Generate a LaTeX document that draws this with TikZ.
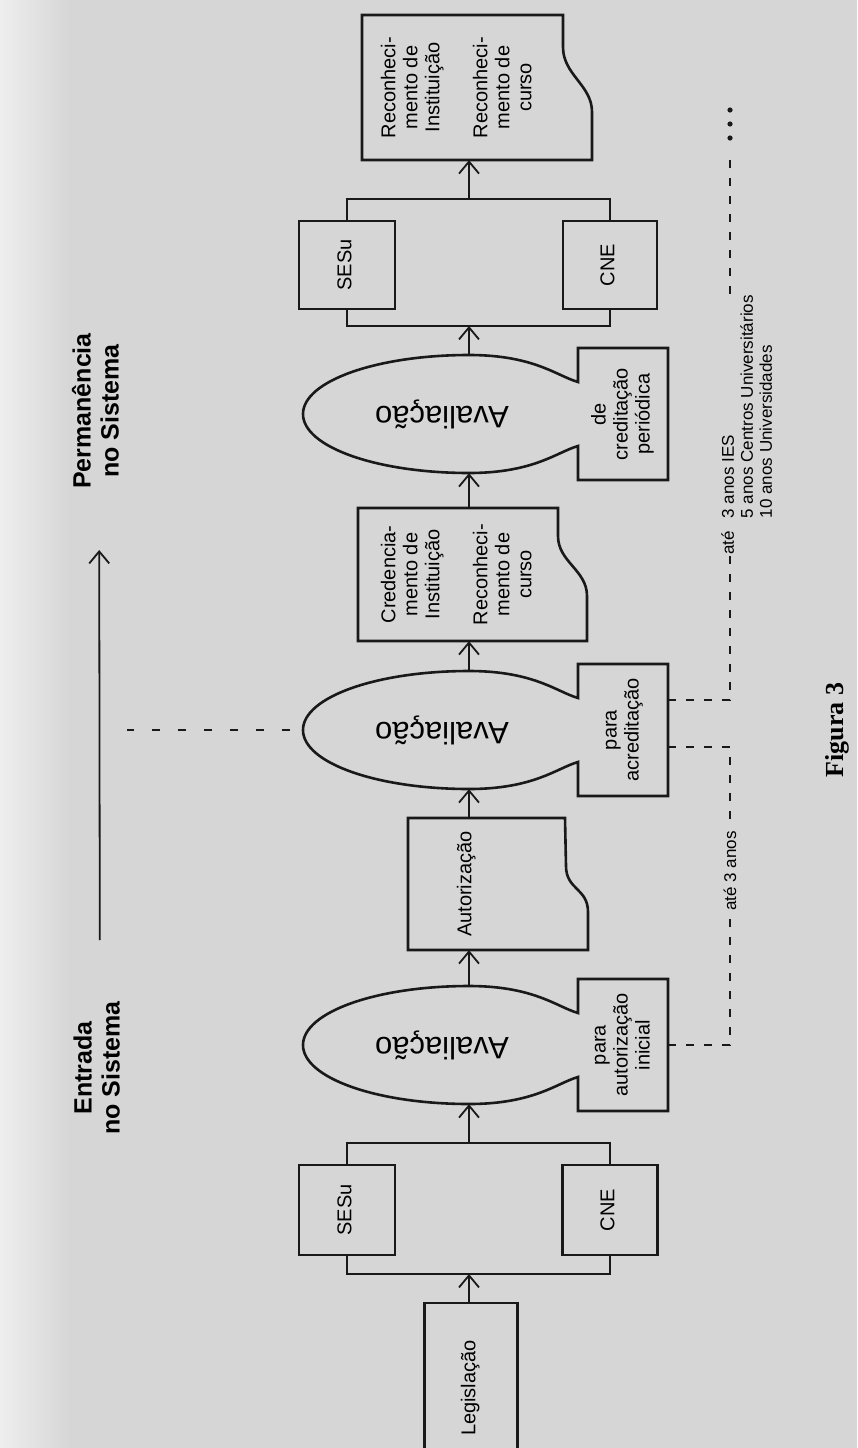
\documentclass[tikz,border=0pt]{standalone}
\usepackage{fontspec}
\setmainfont{Liberation Sans}
\newfontfamily\figfont{Liberation Serif}
\usepackage{graphicx}
\usetikzlibrary{arrows.meta}
\definecolor{papel}{RGB}{214,214,214}
\definecolor{borde}{RGB}{238,238,238}
\definecolor{tinta}{RGB}{25,25,25}
\newcommand{\vtext}[1]{\rotatebox{90}{\begin{tabular}{@{}c@{}}#1\end{tabular}}}

\begin{document}
\begin{tikzpicture}[x=1pt, y=-1pt,
    >={Straight Barb[length=12pt, width=20pt]},
    caja/.style={draw=tinta, line width=2.6pt, inner sep=0pt, font=\fontsize{20}{22}\selectfont},
    texto/.style={inner sep=0pt, font=\fontsize{20}{22}\selectfont},
    linea/.style={draw=tinta, line width=2.6pt},
    flecha/.style={draw=tinta, line width=1.8pt, ->},
    union/.style={draw=tinta, line width=1.8pt},
    raya/.style={draw=tinta, line width=2.4pt, dash pattern=on 8pt off 10pt},
    rayaizq/.style={draw=tinta, line width=2.4pt, dash pattern=on 8pt off 18pt},
    rotulo/.style={fill=papel, inner sep=2pt, font=\fontsize{17}{19}\selectfont},
    titulo/.style={inner sep=0pt, font=\fontsize{25}{28}\selectfont\bfseries}]

    % Fondo de la pagina
    \useasboundingbox (0,0) rectangle (857,1448);
    \fill[papel] (0,0) rectangle (857,1448);
    \shade[left color=borde, right color=papel] (0,0) rectangle (70,1448);
    \clip (0,0) rectangle (857,1448);

    % Legislacao, SESu y CNE (abajo)
    \node[caja, minimum width=93, minimum height=170] (leg) at (471,1388) {\vtext{Legislação}};
    \node[caja, minimum width=96, minimum height=90] (sesu2) at (347,1210) {\vtext{SESu}};
    \node[caja, minimum width=95, minimum height=90] (cne2) at (610,1210) {\vtext{CNE}};
    \coordinate (j2top) at (469,1143);
    \coordinate (j2bot) at (469,1274);

    % SESu y CNE (arriba)
    \node[caja, minimum width=96, minimum height=88] (sesu1) at (347,265) {\vtext{SESu}};
    \node[caja, minimum width=94, minimum height=88] (cne1) at (610,265) {\vtext{CNE}};
    \coordinate (j1top) at (469,199);
    \coordinate (j1bot) at (469,326);

    % Avaliacoes
    \foreach \n/\cy in {1/1045,2/730,3/414}
        \node[texto, minimum width=332, minimum height=118] (av\n) at (469,\cy)
            {\rotatebox{180}{\fontsize{31}{33}\selectfont\hspace{54pt}Avaliação}};
    \node[texto, minimum width=90, minimum height=132, anchor=west] (pa1) at ([xshift=109pt]av1.center) {\vtext{para\\autorização\\inicial}};
    \node[texto, minimum width=90, minimum height=132, anchor=west] (pa2) at ([xshift=109pt]av2.center) {\vtext{para\\acreditação}};
    \node[texto, minimum width=90, minimum height=132, anchor=west] (pa3) at ([xshift=109pt]av3.center) {\vtext{de\\creditação\\periódica}};

    % Contorno: elipse unida a su caja
    \foreach \n in {1,2,3}{
        \begin{scope}[shift={(av\n.center)}]
            \draw[linea] (109,-32) -- (109,-66) -- (199,-66) -- (199,66) -- (109,66) -- (109,32)
                .. controls (88,38) and (65,59) .. (0,59)
                .. controls (-92,59) and (-166,33) .. (-166,0)
                .. controls (-166,-33) and (-92,-59) .. (0,-59)
                .. controls (65,-59) and (88,-38) .. (109,-32) -- cycle;
        \end{scope}
    }

    % Documentos
    \node[texto, minimum height=145] (rec) at (459,87.5) {\vtext{Reconheci-\\mento de\\Instituição\\[26pt]Reconheci-\\mento de\\curso}};
    \node[texto, minimum height=133] (cred) at (459,574.5) {\vtext{Credencia-\\mento de\\Instituição\\[26pt]Reconheci-\\mento de\\curso}};
    \node[texto, minimum height=132] (aut) at (467,884) {\vtext{Autorização}};
    \draw[linea] (563,15) -- (362,15) -- (362,160) -- (592,160) -- (592,112)
        .. controls (592,85) and (563,75) .. (563,47) -- cycle;
    \draw[linea] (558,508) -- (358,508) -- (358,641) -- (587,641) -- (587,596)
        .. controls (587,570) and (558,562) .. (558,536) -- cycle;
    \draw[linea] (565,818) -- (408,818) -- (408,950) -- (588,950) -- (588,912)
        .. controls (588,888) and (566,890) .. (566,866) -- cycle;

    % Flechas del flujo
    \draw[flecha] (j2bot |- leg.north) -- (j2bot);
    \draw[union] (sesu2.south) |- (j2bot) -| (cne2.south);
    \draw[union] (sesu2.north) |- (j2top) -| (cne2.north);
    \draw[flecha] (j2top) -- (av1.south);
    \draw[flecha] (av1.north) -- (av1.north |- aut.south);
    \draw[flecha] (av2.south |- aut.north) -- (av2.south);
    \draw[flecha] (av2.north) -- (av2.north |- cred.south);
    \draw[flecha] (av3.south |- cred.north) -- (av3.south);
    \draw[flecha] (av3.north) -- (j1bot);
    \draw[union] (sesu1.south) |- (j1bot) -| (cne1.south);
    \draw[union] (sesu1.north) |- (j1top) -| (cne1.north);
    \draw[flecha] (j1top) -- (j1top |- rec.south);

    % Entrada y permanencia
    \node[titulo] (perm) at (99,411) {\vtext{Permanência\\no Sistema}};
    \node[titulo] (ent) at (100,1068) {\vtext{Entrada\\no Sistema}};
    \draw[flecha, shorten <=61pt, shorten >=61pt] (ent) -- (perm);
    \coordinate (izq) at (127,730);
    \draw[rayaizq, shorten <=13pt] (av2.west) -- (izq);

    % Plazos
    \coordinate (eje) at (730,0);
    \coordinate (bajo) at ([yshift=-17pt]pa2.east);
    \coordinate (alto) at ([yshift=30pt]pa2.east);
    \coordinate (fin) at (730,150);
    \draw[raya] (pa1.east) -| (bajo -| eje) -- (bajo);
    \draw[raya] (alto) -| (fin);
    \foreach \y in {110,124,138}
        \fill[tinta] (730,\y) circle[radius=2.6pt];
    \node[rotulo, inner sep=7pt] (ate1) at (730,871) {\rotatebox{90}{até 3 anos}};
    \node[rotulo, inner sep=1pt] (ate2) at (749,425) {\rotatebox{90}{\begin{tabular}{@{}l@{\hspace{13pt}}l@{}}até & 3 anos IES\\ & 5 anos Centros Universitários\\ & 10 anos Universidades\end{tabular}}};
    \node[inner sep=0pt, font=\figfont\bfseries\fontsize{26}{30}\selectfont] (fig) at (837,730) {\rotatebox{90}{Figura 3}};
\end{tikzpicture}
\end{document}
